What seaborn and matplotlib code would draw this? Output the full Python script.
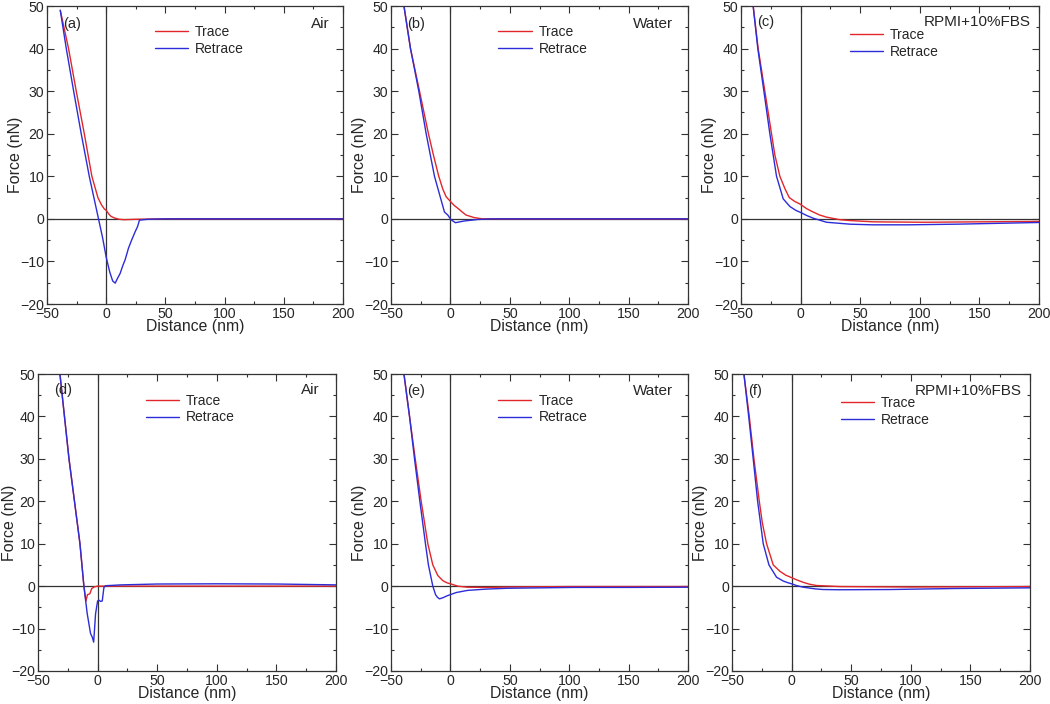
import matplotlib
matplotlib.use("Agg")
import matplotlib.pyplot as plt
from matplotlib.ticker import MultipleLocator
import seaborn as sns

# Valores (Distance en nm, Force en nN)
a_trace_x = [-38.8, -31.8, -25.3, -18.5, -12.1, -7.0, -4.0, -1.5, 0, 2, 4, 7, 11, 15, 25, 50, 100, 150, 200]
a_trace_y = [49, 40, 30, 20, 10, 5, 3.3, 2.3, 2.0, 1.2, 0.6, 0.2, -0.1, -0.2, -0.1, 0, 0, 0, 0]
a_retrace_x = [-38.8, -33.7, -27.5, -21.1, -14.3, -6.5, -3, 0, 3, 5.5, 7.6, 9.5, 11.8, 14, 16, 18.8, 21.6, 24.5, 26.5, 28.1, 35, 50, 100, 150, 200]
a_retrace_y = [49, 40, 30, 20, 10, 0, -4.5, -9.0, -12.5, -14.6, -15.1, -14.0, -12.8, -11.0, -9.6, -6.9, -4.9, -3.0, -1.8, -0.3, -0.1, 0, 0, 0, 0]

b_trace_x = [-39.1, -33.6, -26, -18.5, -14.3, -9.8, -6.4, -3.6, 0, 3, 6.2, 10, 13.1, 20, 27, 40, 100, 150, 200]
b_trace_y = [50, 40, 30, 20, 15, 10, 7, 5.2, 4.1, 3.2, 2.5, 1.6, 0.9, 0.3, 0, 0, 0, 0, 0]
b_retrace_x = [-39.1, -33.6, -26.6, -20.4, -13.4, -6.4, -5, -2.2, 0.5, 4.2, 11.7, 23, 34, 100, 150, 200]
b_retrace_y = [50, 40, 30, 20, 10, 3, 1.6, 0.9, -0.2, -0.9, -0.5, -0.15, 0, 0, 0, 0]

c_trace_x = [-39.8, -35.6, -30, -24.4, -21.6, -17.4, -13, -9.5, -5, -0.6, 5, 10.6, 16, 21.8, 33, 41.5, 61, 103, 150, 200]
c_trace_y = [50, 40, 30, 20, 15, 10, 7, 5, 4.1, 3.5, 2.4, 1.6, 0.9, 0.4, -0.2, -0.4, -0.7, -0.8, -0.7, -0.6]
c_retrace_x = [-39.8, -35.9, -30.8, -25.8, -23, -20.2, -14.6, -9, -4, 0, 5, 10.6, 21.8, 41.5, 60, 90, 131, 200]
c_retrace_y = [50, 40, 30, 20, 15, 10, 4.7, 2.9, 2.0, 1.5, 0.8, 0.15, -0.8, -1.25, -1.4, -1.4, -1.25, -0.85]

d_trace_x = [-31.6, -24, -14.8, -11.5, -9.8, -8.5, -6.5, -5, -3, 0, 20, 50, 100, 150, 200]
d_trace_y = [50, 30, 10, 0, -3.5, -2.0, -1.8, -0.6, -0.2, 0, 0, 0, 0, 0, 0]
d_retrace_x = [-31.6, -24, -14.8, -11.5, -8.7, -5.9, -4.5, -3.3, -1.7, 0, 1.1, 2.5, 3.9, 5.3, 6.7, 20, 50, 100, 150, 200]
d_retrace_y = [50, 30, 10, 0, -6.5, -11.2, -12, -13.2, -6.5, -3.5, -3.3, -3.6, -3.5, -0.3, 0.1, 0.3, 0.5, 0.55, 0.5, 0.3]

e_trace_x = [-39.1, -34.4, -29.6, -24.6, -21.8, -19, -14.8, -10.6, -6.4, -3, 0, 6.2, 14.5, 30, 50, 100, 150, 200]
e_trace_y = [50, 40, 30, 20, 15, 10, 5, 2.5, 1.3, 0.8, 0.55, 0, -0.25, -0.3, -0.2, -0.1, -0.1, -0.1]
e_retrace_x = [-39.1, -34.4, -30.2, -25.7, -21, -18.5, -14.8, -12.5, -11, -9.2, -6, -3, 0, 5, 14.5, 30, 48, 104, 150, 200]
e_retrace_y = [50, 40, 30, 20, 10, 5, 0, -2.0, -2.6, -3.0, -2.7, -2.3, -2.0, -1.5, -1.0, -0.7, -0.5, -0.3, -0.3, -0.25]

f_trace_x = [-40, -35.5, -31.6, -27.1, -24.6, -21, -15.4, -9.8, -5, 0, 5, 9.8, 15, 21, 40.6, 100, 150, 200]
f_trace_y = [50, 40, 30, 20, 15, 10, 5, 3.5, 2.6, 2.0, 1.4, 0.9, 0.45, 0.15, -0.1, -0.2, -0.15, -0.1]
f_retrace_x = [-40, -36, -32.2, -28.5, -23.8, -19, -12.6, -7, -3, 0, 4, 9.8, 20, 26.6, 40.6, 82.5, 138, 200]
f_retrace_y = [50, 40, 30, 20, 10, 5, 2.1, 1.2, 0.8, 0.55, 0.15, -0.25, -0.65, -0.8, -0.85, -0.8, -0.55, -0.4]

panel_tags = ["(a)", "(b)", "(c)", "(d)", "(e)", "(f)"]
media = ["Air", "Water", "RPMI+10%FBS", "Air", "Water", "RPMI+10%FBS"]

sns.set_style("ticks")
plt.rcParams["font.family"] = ["Liberation Sans", "DejaVu Sans"]
plt.rcParams["axes.unicode_minus"] = True

RED = "#e2262a"
BLUE = "#2c2cd8"

fig = plt.figure(figsize=(10.5, 7.04), dpi=100)
W, H = 1050, 704

# posiciones de los ejes en pixeles: izquierda, derecha, arriba, abajo
boxes = [
    (47, 343, 6, 304), (391, 688, 6, 304), (741, 1039, 6, 304),
    (38, 336, 374, 671), (391, 688, 374, 671), (732, 1030, 374, 671),
]
legend_xy = [(0.346, 0.884), (0.343, 0.884), (0.347, 0.874),
             (0.343, 0.882), (0.342, 0.882), (0.346, 0.874)]
tag_y = [0.94, 0.94, 0.946, 0.945, 0.943, 0.944]
right_x = [0.956, 0.95, 0.972, 0.946, 0.95, 0.972]
ylab_x = [-0.08, -0.08, -0.08, -0.072, -0.08, -0.08]

curves = [
    (a_trace_x, a_trace_y, a_retrace_x, a_retrace_y),
    (b_trace_x, b_trace_y, b_retrace_x, b_retrace_y),
    (c_trace_x, c_trace_y, c_retrace_x, c_retrace_y),
    (d_trace_x, d_trace_y, d_retrace_x, d_retrace_y),
    (e_trace_x, e_trace_y, e_retrace_x, e_retrace_y),
    (f_trace_x, f_trace_y, f_retrace_x, f_retrace_y),
]

for i, (l, r, t, b) in enumerate(boxes):
    ax = fig.add_axes([l / W, 1 - b / H, (r - l) / W, (b - t) / H])
    tx, ty, rx, ry = curves[i]
    ax.axhline(0, color="#333333", lw=0.9, zorder=1)
    ax.axvline(0, color="#333333", lw=0.9, zorder=1)
    sns.lineplot(x=tx, y=ty, ax=ax, color=RED, lw=1.0, sort=False,
                 estimator=None, label="Trace")
    sns.lineplot(x=rx, y=ry, ax=ax, color=BLUE, lw=1.0, sort=False,
                 estimator=None, label="Retrace")
    ax.set_xlim(-50, 200)
    ax.set_ylim(-20, 50)
    ax.xaxis.set_major_locator(MultipleLocator(50))
    ax.xaxis.set_minor_locator(MultipleLocator(25))
    ax.yaxis.set_major_locator(MultipleLocator(10))
    ax.yaxis.set_minor_locator(MultipleLocator(5))
    ax.tick_params(which="both", direction="in", top=True, right=True,
                   labelsize=10.2, color="#333333", pad=2)
    ax.tick_params(which="major", length=5, width=0.8)
    ax.tick_params(which="minor", length=2.5, width=0.8)
    for sp in ax.spines.values():
        sp.set_color("#333333")
        sp.set_linewidth(0.9)
    ax.set_xlabel("Distance (nm)", fontsize=11.3)
    ax.set_ylabel("Force (nN)", fontsize=11.5)
    ax.xaxis.set_label_coords(0.5, -0.0505)
    ax.yaxis.set_label_coords(ylab_x[i], 0.5)
    ax.legend(loc="center left", bbox_to_anchor=legend_xy[i], frameon=False,
              fontsize=10, handlelength=2.4, handletextpad=0.5, labelspacing=0.2,
              borderaxespad=0)
    ax.text(0.055, tag_y[i], panel_tags[i], transform=ax.transAxes,
            fontsize=10.5, ha="left", va="center")
    ax.text(right_x[i], tag_y[i], media[i], transform=ax.transAxes,
            fontsize=11, ha="right", va="center")

fig.savefig("out.png", dpi=100)
